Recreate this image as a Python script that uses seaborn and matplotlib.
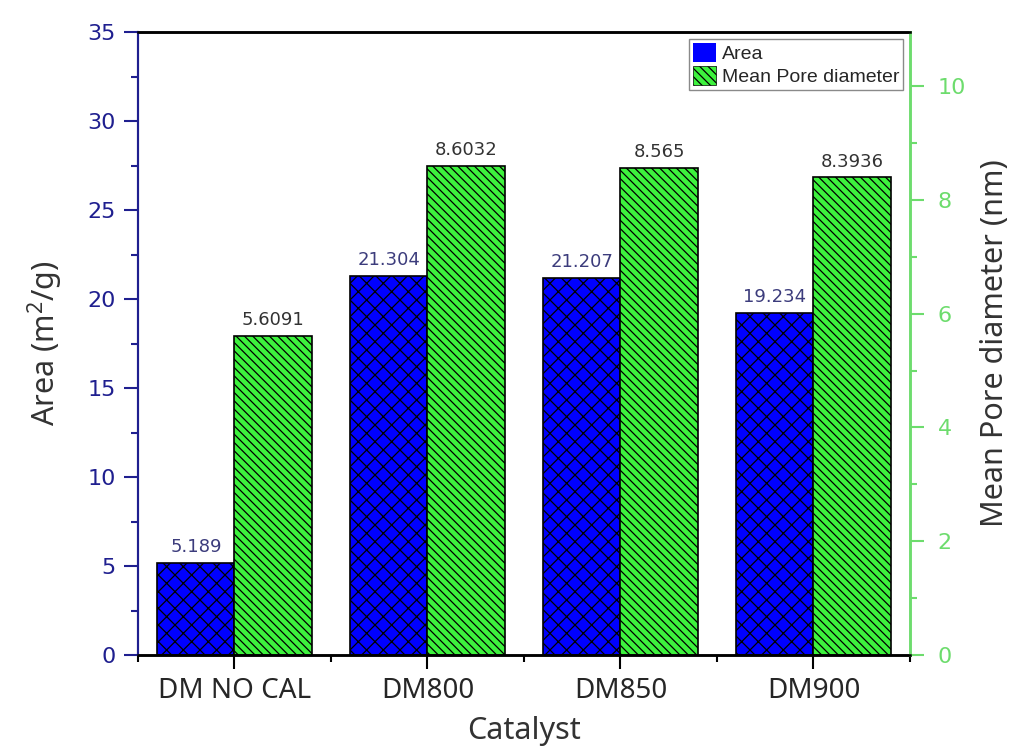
import matplotlib
matplotlib.use("Agg")
import matplotlib.pyplot as plt
from matplotlib.patches import Patch
from matplotlib.ticker import MultipleLocator, FixedLocator
import seaborn as sns
import pandas as pd

# ---- data -------------------------------------------------------------
catalysts = ["DM NO CAL", "DM800", "DM850", "DM900"]
series = ["Area", "Mean Pore diameter"]
area = [5.189, 21.304, 21.207, 19.234]          # m^2/g
pore_diameter = [5.6091, 8.6032, 8.565, 8.3936]  # nm

# ---- style ------------------------------------------------------------
sns.set_style("ticks")
plt.rcParams["font.family"] = ["DejaVu Sans"]
plt.rcParams["mathtext.default"] = "regular"
plt.rcParams["hatch.linewidth"] = 0.9

BLUE = "#0000ff"
GREEN = "#3df23d"
NAVY = "#1f1f8f"
LIGHT_GREEN = "#6ddc6d"
LABEL_GRAY = "#333333"
palette = {series[0]: BLUE, series[1]: GREEN}

df_area = pd.DataFrame({"Catalyst": catalysts, "value": area, "Series": series[0]})
df_pore = pd.DataFrame({"Catalyst": catalysts, "value": pore_diameter, "Series": series[1]})

fig = plt.figure(figsize=(10.19, 7.53), dpi=100)
ax1 = fig.add_subplot(111)
fig.subplots_adjust(left=0.1354, right=0.893, bottom=0.130, top=0.9575)
ax2 = ax1.twinx()

# both series share the dodge slots through the common hue order
common = dict(x="Catalyst", y="value", hue="Series", hue_order=series, order=catalysts,
              palette=palette, dodge=True, width=0.8, errorbar=None, legend=False,
              edgecolor="black", linewidth=1.2, saturation=1)
sns.barplot(data=df_area, ax=ax1, **common)
sns.barplot(data=df_pore, ax=ax2, **common)


def drawn_bars(ax):
    """Return the bar container that actually holds rectangles."""
    for c in ax.containers:
        bars = [b for b in c if b is not None]
        if len(bars) == len(catalysts):
            return c
    return None


bars_area = drawn_bars(ax1)
bars_pore = drawn_bars(ax2)
for bar in bars_area:
    bar.set_hatch("xx")
for bar in bars_pore:
    bar.set_hatch("\\\\\\\\")

ax1.bar_label(bars_area, labels=[f"{v:g}" for v in area], padding=5,
              fontsize=13, color="#3c3c7c")
ax2.bar_label(bars_pore, labels=[f"{v:g}" for v in pore_diameter], padding=5,
              fontsize=13, color=LABEL_GRAY)

# ---- axes -------------------------------------------------------------
ax1.set_xlim(-0.5, 3.5)
ax1.set_ylim(0, 35)
ax2.set_ylim(0, 10.95)

ax1.yaxis.set_major_locator(MultipleLocator(5))
ax1.yaxis.set_minor_locator(MultipleLocator(2.5))
ax2.yaxis.set_major_locator(MultipleLocator(2))
ax2.yaxis.set_minor_locator(MultipleLocator(1))
ax1.xaxis.set_minor_locator(FixedLocator([-0.5, 0.5, 1.5, 2.5, 3.5]))

ax1.tick_params(axis="y", which="major", direction="out", length=10, width=1.5,
                color=NAVY, labelcolor=NAVY, labelsize=16, pad=6)
ax1.tick_params(axis="y", which="minor", direction="out", length=5, width=1.5, color=NAVY)
ax2.tick_params(axis="y", which="major", direction="out", length=10, width=1.5,
                color=LIGHT_GREEN, labelcolor=LIGHT_GREEN, labelsize=16, pad=10)
ax2.tick_params(axis="y", which="minor", direction="out", length=5, width=1.5,
                color=LIGHT_GREEN)
ax1.tick_params(axis="x", which="major", direction="out", length=10, width=1.5,
                color="black", labelsize=20, pad=6)
ax1.tick_params(axis="x", which="minor", direction="out", length=5, width=1.5, color="black")
for lab in ax1.get_xticklabels():
    lab.set_fontfamily(["Noto Sans", "DejaVu Sans"])

for ax in (ax1, ax2):
    for side in ("top", "bottom"):
        ax.spines[side].set_visible(True)
        ax.spines[side].set_color("black")
        ax.spines[side].set_linewidth(1.8)
    ax.spines["left"].set_color(NAVY)
    ax.spines["left"].set_linewidth(1.5)
    ax.spines["right"].set_color(LIGHT_GREEN)
    ax.spines["right"].set_linewidth(1.8)
    ax.grid(False)

label_font = dict(family=["Noto Sans", "DejaVu Sans"], size=22, color=LABEL_GRAY)
ax1.set_xlabel("Catalyst", labelpad=8, **label_font)
ax1.set_ylabel("Area (m$^{2}$/g)", labelpad=16, **label_font)
ax2.set_ylabel("Mean Pore diameter (nm)", labelpad=10, rotation=90, **label_font)

# ---- legend -----------------------------------------------------------
handles = [
    Patch(facecolor=BLUE, edgecolor="none", label=series[0]),
    Patch(facecolor=GREEN, edgecolor="black", linewidth=0.5, hatch="\\\\\\\\", label=series[1]),
]
leg = ax2.legend(handles=handles, loc="upper right", frameon=True, fancybox=False,
                 framealpha=1, edgecolor="#8a8a8a",
                 prop=dict(family=["Liberation Sans", "DejaVu Sans"], size=14),
                 handlelength=1.2, handleheight=1.15, handletextpad=0.3,
                 borderpad=0.2, labelspacing=0.15, borderaxespad=0.35)
leg.get_frame().set_linewidth(1.0)

fig.savefig("out.png", dpi=100)
